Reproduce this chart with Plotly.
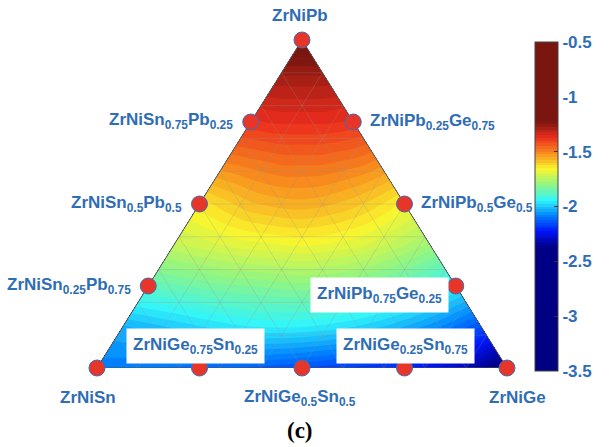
import plotly.graph_objects as go

# ---------------- data ----------------
# field values read along rows of constant Pb fraction; each row runs from the Sn-rich
# edge (t=0) to the Ge-rich edge (t=1) at t = 0, 1/8, ..., 1
pb_levels = [0.0, 0.125, 0.25, 0.375, 0.5, 0.625, 0.75, 0.875, 1.0]
t_levels = [0.0, 0.125, 0.25, 0.375, 0.5, 0.625, 0.75, 0.875, 1.0]
row_pb000 = [-2.09, -2.10, -2.11, -2.13, -2.15, -2.18, -2.21, -2.28, -2.42]
row_pb125 = [-2.03, -2.00, -1.97, -1.95, -1.95, -1.97, -2.01, -2.07, -2.15]
row_pb250 = [-1.87, -1.85, -1.83, -1.82, -1.81, -1.82, -1.85, -1.89, -1.95]
row_pb375 = [-1.73, -1.71, -1.69, -1.68, -1.67, -1.68, -1.70, -1.74, -1.78]
row_pb500 = [-1.64, -1.61, -1.58, -1.565, -1.56, -1.57, -1.59, -1.62, -1.66]
row_pb625 = [-1.50, -1.49, -1.48, -1.47, -1.47, -1.47, -1.48, -1.49, -1.51]
row_pb750 = [-1.38, -1.375, -1.37, -1.37, -1.37, -1.37, -1.37, -1.375, -1.38]
row_pb875 = [-1.29, -1.29, -1.29, -1.29, -1.29, -1.29, -1.29, -1.29, -1.29]
row_pb1000 = [-1.18, -1.18, -1.18, -1.18, -1.18, -1.18, -1.18, -1.18, -1.18]
rows = [row_pb000, row_pb125, row_pb250, row_pb375, row_pb500,
        row_pb625, row_pb750, row_pb875, row_pb1000]

# marked compositions (Pb fraction, Ge fraction)
point_pb = [0, 0, 0, 0, 0, 0.25, 0.5, 0.75, 1.0, 0.75, 0.5, 0.25]
point_ge = [0, 0.25, 0.5, 0.75, 1.0, 0.75, 0.5, 0.25, 0, 0, 0, 0]

labels = ["ZrNiPb",
          "ZrNiSn<sub>0.75</sub>Pb<sub>0.25</sub>",
          "ZrNiPb<sub>0.25</sub>Ge<sub>0.75</sub>",
          "ZrNiSn<sub>0.5</sub>Pb<sub>0.5</sub>",
          "ZrNiPb<sub>0.5</sub>Ge<sub>0.5</sub>",
          "ZrNiSn<sub>0.25</sub>Pb<sub>0.75</sub>",
          "ZrNiPb<sub>0.75</sub>Ge<sub>0.25</sub>",
          "ZrNiGe<sub>0.75</sub>Sn<sub>0.25</sub>",
          "ZrNiGe<sub>0.25</sub>Sn<sub>0.75</sub>",
          "ZrNiSn",
          "ZrNiGe<sub>0.5</sub>Sn<sub>0.5</sub>",
          "ZrNiGe"]

cbar_vals = [-3.5, -3, -2.5, -2, -1.5, -1, -0.5]
cbar_text = ["-3.5", "-3", "-2.5", "-2", "-1.5", "-1", "-0.5"]

# ---------------- helpers ----------------
def to_xy(pb, ge):
    return ge + pb / 2.0, pb

# carpet geometry: row of constant Pb, parameter t along the row
cx = [[t * (1 - pb) + pb / 2.0 for t in t_levels] for pb in pb_levels]
cy = [[pb for t in t_levels] for pb in pb_levels]

ZMIN, ZMAX = -3.5, -0.5
def s(v):
    return (v - ZMIN) / (ZMAX - ZMIN)

lo, hi = -2.37, -1.23
span = hi - lo
cscale = [
    [0.0, "rgb(0,0,128)"],
    [s(lo), "rgb(0,0,135)"],
    [s(lo + 0.125 * span), "rgb(0,20,250)"],
    [s(lo + 0.25 * span), "rgb(0,130,255)"],
    [s(lo + 0.375 * span), "rgb(50,245,250)"],
    [s(lo + 0.5 * span), "rgb(145,245,130)"],
    [s(lo + 0.625 * span), "rgb(250,245,45)"],
    [s(lo + 0.75 * span), "rgb(248,140,30)"],
    [s(lo + 0.875 * span), "rgb(235,45,30)"],
    [s(hi), "rgb(122,22,15)"],
    [1.0, "rgb(122,22,15)"],
]

BLUE = "#2f6db5"
FONT = "Liberation Sans"

hidden_axis = dict(showgrid=False, showline=False, showticklabels="none",
                   startline=False, endline=False, minorgridcount=0,
                   gridcolor="rgba(0,0,0,0)", smoothing=0)

W, H, L, T = 410.0, 328.0, 97.0, 40.0
def px(xp): return (xp - L) / W
def py(yp): return (T + H - yp) / H

fig = go.Figure()

fig.add_trace(go.Carpet(carpet="c1", a=t_levels, b=pb_levels, x=cx, y=cy,
                        aaxis=hidden_axis, baxis=hidden_axis))

fig.add_trace(go.Contourcarpet(
    carpet="c1", a=t_levels, b=pb_levels, z=rows,
    zauto=False, zmin=ZMIN, zmax=ZMAX,
    autocontour=False,
    contours=dict(start=ZMIN, end=ZMAX, size=0.025, coloring="fill", showlines=False),
    line=dict(width=0),
    colorscale=cscale,
    colorbar=dict(
        x=px(535), xanchor="left", xpad=0, ypad=0,
        y=py(371), yanchor="bottom", len=329, lenmode="pixels",
        thickness=23, outlinewidth=1, outlinecolor="#444",
        tickvals=cbar_vals, ticktext=cbar_text,
        ticks="inside", ticklen=4, tickcolor="#333",
        tickfont=dict(family=FONT, size=17, color=BLUE, weight="bold"),
    ),
))

# grid lines at 0.1 spacing
gx, gy = [], []
for k in range(1, 10):
    f = k / 10
    for (p1, g1), (p2, g2) in [((f, 0), (f, 1 - f)),          # constant Pb
                               ((0, f), (1 - f, f)),          # constant Ge
                               ((0, 1 - f), (1 - f, 0))]:     # constant Sn
        x1, y1 = to_xy(p1, g1); x2, y2 = to_xy(p2, g2)
        gx += [x1, x2, None]; gy += [y1, y2, None]
fig.add_trace(go.Scatter(x=gx, y=gy, mode="lines",
                         line=dict(color="rgba(150,150,150,0.38)", width=0.7),
                         hoverinfo="skip", showlegend=False))

# triangle outline
fig.add_trace(go.Scatter(x=[0, 1, 0.5, 0], y=[0, 0, 1, 0], mode="lines",
                         line=dict(color="#555", width=1), hoverinfo="skip",
                         showlegend=False, cliponaxis=False))

# composition markers
px_, py_ = zip(*[to_xy(p, g) for p, g in zip(point_pb, point_ge)])
fig.add_trace(go.Scatter(x=list(px_), y=list(py_), mode="markers", cliponaxis=False,
                         marker=dict(size=16, color="#e8352a",
                                     line=dict(color="#3b6fb6", width=1)),
                         hoverinfo="skip", showlegend=False))

# labels
lab_pos = [
    (300, 15, "center", False),
    (234, 121, "right", False),
    (369, 122, "left", False),
    (183, 204, "right", False),
    (420, 204, "left", False),
    (132, 286, "right", False),
    (379, 295, "center", True),
    (195, 346, "center", True),
    (405, 346, "center", True),
    (88, 397, "center", False),
    (300, 398, "center", False),
    (517, 397, "center", False),
]
for text, (xp, yp, anc, boxed) in zip(labels, lab_pos):
    fig.add_annotation(
        x=px(xp), y=py(yp), xref="paper", yref="paper", text=text, showarrow=False,
        xanchor=anc, yanchor="middle",
        font=dict(family=FONT, size=17, color=BLUE, weight="bold"),
        bgcolor="white" if boxed else None, borderpad=6 if boxed else 0,
    )

fig.add_annotation(x=px(300), y=py(430), xref="paper", yref="paper", text="(c)",
                   showarrow=False, xanchor="center", yanchor="middle",
                   font=dict(family="Liberation Serif", size=23, color="black", weight="bold"))

fig.update_layout(
    width=610, height=447,
    margin=dict(l=97, r=103, t=40, b=79, autoexpand=False),
    paper_bgcolor="white", plot_bgcolor="white",
    xaxis=dict(range=[0, 1], visible=False, fixedrange=True),
    yaxis=dict(range=[0, 1], visible=False, fixedrange=True),
    showlegend=False,
)

fig.write_html("out.html", config={"displayModeBar": False},
               post_script="document.body.style.margin='0';document.body.style.overflow='hidden';")
